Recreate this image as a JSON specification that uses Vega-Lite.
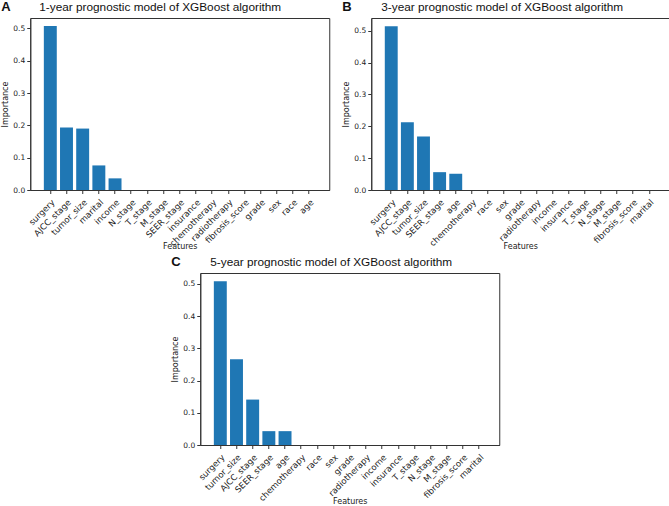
{
  "$schema": "https://vega.github.io/schema/vega-lite/v6.json",
  "padding": {"left": 1, "top": 0, "right": 2, "bottom": 0},
  "background": "white",
  "config": {
    "view": {"stroke": "#333", "strokeWidth": 1},
    "axis": {"labelFont": "DejaVu Sans", "titleFont": "DejaVu Sans", "labelFontSize": 7.5, "titleFontSize": 8, "titleFontWeight": "normal", "labelColor": "#222", "titleColor": "#222", "domainColor": "#333", "tickColor": "#333", "tickSize": 3.5, "labelPadding": 2, "grid": false},
    "axisX": {"labelFontSize": 8.5, "labelAngle": -45, "labelPadding": 4, "titleY": 52},
    "axisY": {"titlePadding": 3},
    "title": {"font": "Liberation Sans", "fontSize": 11.8, "fontWeight": "normal", "anchor": "start", "color": "#111"}
  },
  "data": {"values": [
    {"panel": "A", "feature": "surgery", "importance": 0.507},
    {"panel": "A", "feature": "AJCC_stage", "importance": 0.193},
    {"panel": "A", "feature": "tumor_size", "importance": 0.190},
    {"panel": "A", "feature": "marital", "importance": 0.076},
    {"panel": "A", "feature": "income", "importance": 0.036},
    {"panel": "A", "feature": "N_stage", "importance": 0},
    {"panel": "A", "feature": "T_stage", "importance": 0},
    {"panel": "A", "feature": "M_stage", "importance": 0},
    {"panel": "A", "feature": "SEER_stage", "importance": 0},
    {"panel": "A", "feature": "insurance", "importance": 0},
    {"panel": "A", "feature": "chemotherapy", "importance": 0},
    {"panel": "A", "feature": "radiotherapy", "importance": 0},
    {"panel": "A", "feature": "fibrosis_score", "importance": 0},
    {"panel": "A", "feature": "grade", "importance": 0},
    {"panel": "A", "feature": "sex", "importance": 0},
    {"panel": "A", "feature": "race", "importance": 0},
    {"panel": "A", "feature": "age", "importance": 0},
    {"panel": "B", "feature": "surgery", "importance": 0.514},
    {"panel": "B", "feature": "AJCC_stage", "importance": 0.213},
    {"panel": "B", "feature": "tumor_size", "importance": 0.168},
    {"panel": "B", "feature": "SEER_stage", "importance": 0.056},
    {"panel": "B", "feature": "age", "importance": 0.051},
    {"panel": "B", "feature": "chemotherapy", "importance": 0},
    {"panel": "B", "feature": "race", "importance": 0},
    {"panel": "B", "feature": "sex", "importance": 0},
    {"panel": "B", "feature": "grade", "importance": 0},
    {"panel": "B", "feature": "radiotherapy", "importance": 0},
    {"panel": "B", "feature": "income", "importance": 0},
    {"panel": "B", "feature": "insurance", "importance": 0},
    {"panel": "B", "feature": "T_stage", "importance": 0},
    {"panel": "B", "feature": "N_stage", "importance": 0},
    {"panel": "B", "feature": "M_stage", "importance": 0},
    {"panel": "B", "feature": "fibrosis_score", "importance": 0},
    {"panel": "B", "feature": "marital", "importance": 0},
    {"panel": "C", "feature": "surgery", "importance": 0.508},
    {"panel": "C", "feature": "tumor_size", "importance": 0.266},
    {"panel": "C", "feature": "AJCC_stage", "importance": 0.141},
    {"panel": "C", "feature": "SEER_stage", "importance": 0.043},
    {"panel": "C", "feature": "age", "importance": 0.043},
    {"panel": "C", "feature": "chemotherapy", "importance": 0},
    {"panel": "C", "feature": "race", "importance": 0},
    {"panel": "C", "feature": "sex", "importance": 0},
    {"panel": "C", "feature": "grade", "importance": 0},
    {"panel": "C", "feature": "radiotherapy", "importance": 0},
    {"panel": "C", "feature": "income", "importance": 0},
    {"panel": "C", "feature": "insurance", "importance": 0},
    {"panel": "C", "feature": "T_stage", "importance": 0},
    {"panel": "C", "feature": "N_stage", "importance": 0},
    {"panel": "C", "feature": "M_stage", "importance": 0},
    {"panel": "C", "feature": "fibrosis_score", "importance": 0},
    {"panel": "C", "feature": "marital", "importance": 0}
  ]},
  "center": true,
  "spacing": 4,
  "vconcat": [
    {
      "spacing": 12,
      "hconcat": [
        {
          "title": {"text": "A", "font": "Liberation Sans", "fontWeight": "bold", "fontSize": 13, "anchor": "start", "frame": "bounds", "offset": -12},
          "vconcat": [{
            "width": 299, "height": 172,
            "title": {"text": "1-year prognostic model of XGBoost algorithm", "frame": "group", "dx": 9, "offset": 4},
            "transform": [{"filter": "datum.panel === 'A'"}],
            "mark": {"type": "bar", "color": "#1f77b4"},
            "encoding": {
              "x": {"field": "feature", "type": "nominal", "sort": null, "title": "Features", "scale": {"paddingInner": 0.2, "paddingOuter": 0.84}},
              "y": {"field": "importance", "type": "quantitative", "title": "Importance", "scale": {"domain": [0, 0.532], "nice": false}, "axis": {"values": [0, 0.1, 0.2, 0.3, 0.4, 0.5], "format": ".1f"}}
            }
          }]
        },
        {
          "title": {"text": "B", "font": "Liberation Sans", "fontWeight": "bold", "fontSize": 13, "anchor": "start", "frame": "bounds", "offset": -12},
          "vconcat": [{
            "width": 298, "height": 172,
            "title": {"text": "3-year prognostic model of XGBoost algorithm", "frame": "group", "dx": 10, "offset": 4},
            "transform": [{"filter": "datum.panel === 'B'"}],
            "mark": {"type": "bar", "color": "#1f77b4"},
            "encoding": {
              "x": {"field": "feature", "type": "nominal", "sort": null, "title": "Features", "scale": {"paddingInner": 0.2, "paddingOuter": 0.84}},
              "y": {"field": "importance", "type": "quantitative", "title": "Importance", "scale": {"domain": [0, 0.54], "nice": false}, "axis": {"values": [0, 0.1, 0.2, 0.3, 0.4, 0.5], "format": ".1f"}}
            }
          }]
        }
      ]
    },
    {
      "title": {"text": "C", "font": "Liberation Sans", "fontWeight": "bold", "fontSize": 13, "anchor": "start", "frame": "bounds", "offset": -12},
      "vconcat": [{
        "width": 299, "height": 172,
        "title": {"text": "5-year prognostic model of XGBoost algorithm", "frame": "group", "dx": 10, "offset": 4},
        "transform": [{"filter": "datum.panel === 'C'"}],
        "mark": {"type": "bar", "color": "#1f77b4"},
        "encoding": {
          "x": {"field": "feature", "type": "nominal", "sort": null, "title": "Features", "scale": {"paddingInner": 0.2, "paddingOuter": 0.84}},
          "y": {"field": "importance", "type": "quantitative", "title": "Importance", "scale": {"domain": [0, 0.534], "nice": false}, "axis": {"values": [0, 0.1, 0.2, 0.3, 0.4, 0.5], "format": ".1f"}}
        }
      }]
    }
  ]
}
